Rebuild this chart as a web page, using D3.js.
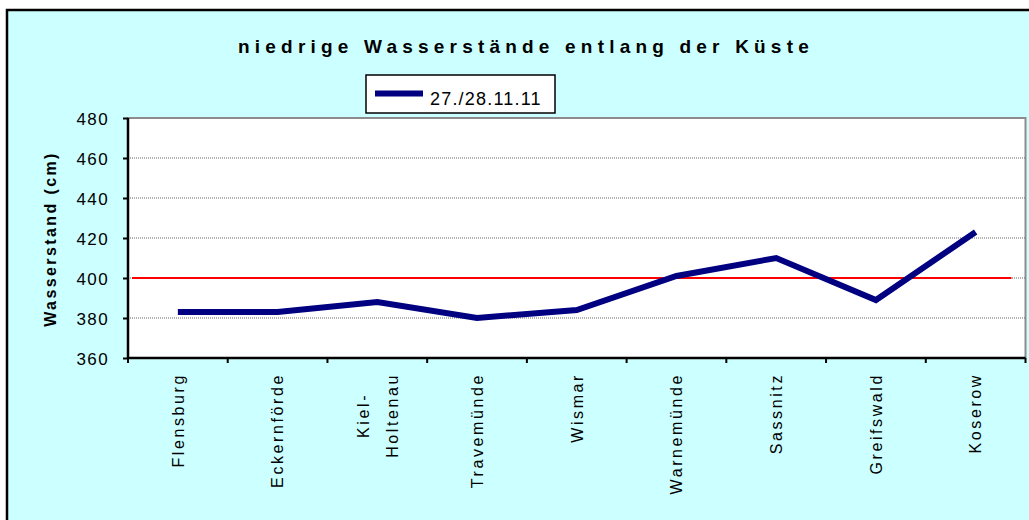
<!DOCTYPE html>
<html>
<head>
<meta charset="utf-8">
<script src="https://cdn.jsdelivr.net/npm/d3@7"></script>
<style>
  body { margin: 0; background: #ffffff; }
  svg text { font-family: Arial, "Liberation Sans", sans-serif; fill: #000; }
</style>
</head>
<body>
<div id="chart"></div>
<script>
// chart data
const stations = ["Flensburg", "Eckernförde", "Kiel-\nHoltenau", "Travemünde", "Wismar",
                  "Warnemünde", "Sassnitz", "Greifswald", "Koserow"];
const levels = [383, 383, 388, 380, 384, 401, 410, 389, 423];
const seriesName = "27./28.11.11";
const threshold = 400;
const yTicks = [360, 380, 400, 420, 440, 460, 480];

const width = 1029, height = 520;
const margin = { top: 118, right: 3.5, bottom: 162, left: 128 };

const svg = d3.select("#chart").append("svg")
    .attr("width", width)
    .attr("height", height);

// outer chart frame
svg.append("rect")
    .attr("x", 7).attr("y", 10)
    .attr("width", width + 20).attr("height", height + 20)
    .attr("fill", "#ccffff")
    .attr("stroke", "#000")
    .attr("stroke-width", 2.5);

// title
svg.append("text")
    .attr("x", 526).attr("y", 53)
    .attr("text-anchor", "middle")
    .style("font-size", "19px")
    .style("font-weight", "bold")
    .style("letter-spacing", "5.2px")
    .text("niedrige Wasserstände entlang der Küste");

const x = d3.scaleBand()
    .domain(stations)
    .range([margin.left, width - margin.right])
    .padding(0);

const y = d3.scaleLinear()
    .domain([360, 480])
    .range([height - margin.bottom, margin.top]);

// plot area
svg.append("rect")
    .attr("x", x.range()[0]).attr("y", y(480))
    .attr("width", x.range()[1] - x.range()[0])
    .attr("height", y(360) - y(480))
    .attr("fill", "#fff")
    .attr("stroke", "#8c8c8c")
    .attr("stroke-width", 2);

// gridlines
svg.append("g")
    .selectAll("line")
    .data(yTicks.slice(1, -1))
    .enter().append("line")
    .attr("x1", x.range()[0]).attr("x2", x.range()[1])
    .attr("y1", d => y(d)).attr("y2", d => y(d))
    .attr("stroke", "#666")
    .attr("stroke-width", 1)
    .attr("stroke-dasharray", "1,1");

// threshold line
svg.append("line")
    .attr("x1", x.range()[0] + 4).attr("x2", x.range()[1] - 14)
    .attr("y1", y(threshold)).attr("y2", y(threshold))
    .attr("stroke", "#ff0000")
    .attr("stroke-width", 2);

// y axis
const yAxis = svg.append("g")
    .attr("transform", `translate(${margin.left},0)`)
    .call(d3.axisLeft(y).tickValues(yTicks).tickSize(5).tickPadding(6));
yAxis.select(".domain").attr("stroke", "#000").attr("stroke-width", 2.5)
    .attr("d", `M0,${y(480)}V${y(360)}`);
yAxis.selectAll(".tick line").attr("stroke", "#000").attr("stroke-width", 2);
yAxis.selectAll(".tick text")
    .style("font-size", "17px")
    .style("letter-spacing", "1.4px")
    .style("font-family", "Arial, 'Liberation Sans', sans-serif")
    .attr("fill", "#000")
    .attr("x", -19)
    .attr("dy", "0.36em");

// x axis line and category ticks between bands
svg.append("line")
    .attr("x1", x.range()[0]).attr("x2", x.range()[1])
    .attr("y1", y(360)).attr("y2", y(360))
    .attr("stroke", "#000").attr("stroke-width", 2.5);
svg.append("g")
    .selectAll("line")
    .data(stations.map(s => x(s)).concat([x.range()[1]]))
    .enter().append("line")
    .attr("x1", d => d).attr("x2", d => d)
    .attr("y1", y(360)).attr("y2", y(360) + 5)
    .attr("stroke", "#000").attr("stroke-width", 2);

// category labels, rotated
const labelTop = y(360) + 15;
const labels = svg.append("g")
    .selectAll("g")
    .data(stations)
    .enter().append("g")
    .attr("transform", d => `translate(${x(d) + x.bandwidth() / 2},${labelTop}) rotate(-90)`);

labels.each(function(d) {
    const g = d3.select(this);
    const lines = d.split("\n");
    const gap = 29;
    const texts = lines.map((ln, i) => g.append("text")
        .attr("text-anchor", "middle")
        .attr("y", (i - (lines.length - 1) / 2) * gap)
        .attr("dy", "0.36em")
        .style("font-size", "16px")
        .style("letter-spacing", "2.6px")
        .text(ln));
    const maxLen = d3.max(texts, t => t.node().getComputedTextLength());
    texts.forEach(t => t.attr("x", -maxLen / 2));
});

// y axis title
svg.append("text")
    .attr("transform", `translate(50,239) rotate(-90)`)
    .attr("text-anchor", "middle")
    .attr("dy", "0.36em")
    .style("font-size", "16px")
    .style("font-weight", "bold")
    .style("letter-spacing", "2.4px")
    .text("Wasserstand (cm)");

// data line
const line = d3.line()
    .x((d, i) => x(stations[i]) + x.bandwidth() / 2)
    .y(d => y(d));

svg.append("path")
    .datum(levels)
    .attr("d", line)
    .attr("fill", "none")
    .attr("stroke", "#000080")
    .attr("stroke-width", 6)
    .attr("stroke-linejoin", "miter");

// legend
const legend = svg.append("g").attr("transform", "translate(366,75)");
legend.append("rect")
    .attr("width", 189).attr("height", 38)
    .attr("fill", "#fff")
    .attr("stroke", "#000")
    .attr("stroke-width", 1.5);
legend.append("line")
    .attr("x1", 9).attr("x2", 57)
    .attr("y1", 18.5).attr("y2", 18.5)
    .attr("stroke", "#000080")
    .attr("stroke-width", 6);
legend.append("text")
    .attr("x", 64).attr("y", 30)
    .style("font-size", "18px")
    .style("letter-spacing", "1.2px")
    .text(seriesName);
</script>
</body>
</html>
